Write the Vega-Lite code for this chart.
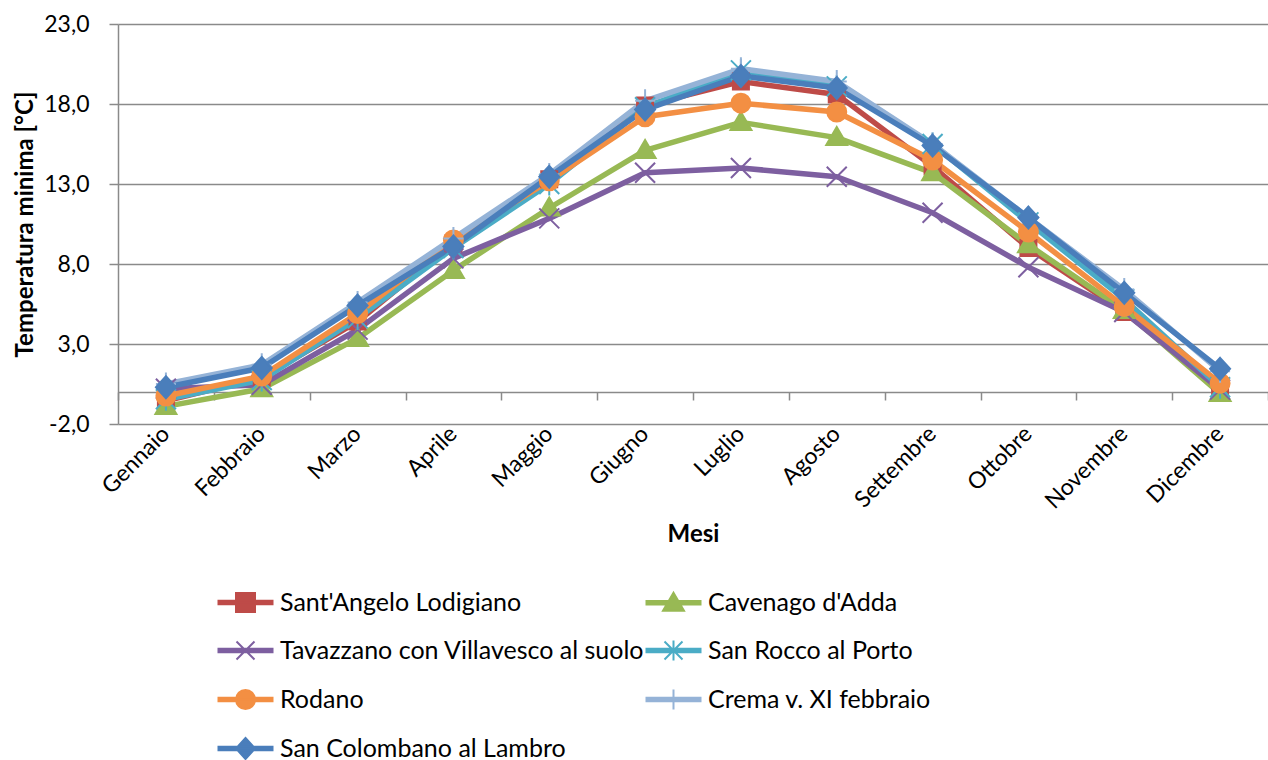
{
  "$schema": "https://vega.github.io/schema/vega-lite/v6.json",
  "autosize": {"type": "none"},
  "width": 1150,
  "height": 400,
  "padding": {"left": 118, "top": 24, "right": 0, "bottom": 336},
  "background": "white",
  "config": {
    "font": "Lato",
    "view": {"stroke": null}
  },
  "data": {
    "values": [
      {"mese": "Gennaio", "stazione": "Sant'Angelo Lodigiano", "t": -0.55},
      {"mese": "Febbraio", "stazione": "Sant'Angelo Lodigiano", "t": 0.9},
      {"mese": "Marzo", "stazione": "Sant'Angelo Lodigiano", "t": 4.4},
      {"mese": "Aprile", "stazione": "Sant'Angelo Lodigiano", "t": 9.3},
      {"mese": "Maggio", "stazione": "Sant'Angelo Lodigiano", "t": 13.3},
      {"mese": "Giugno", "stazione": "Sant'Angelo Lodigiano", "t": 17.9},
      {"mese": "Luglio", "stazione": "Sant'Angelo Lodigiano", "t": 19.4},
      {"mese": "Agosto", "stazione": "Sant'Angelo Lodigiano", "t": 18.6},
      {"mese": "Settembre", "stazione": "Sant'Angelo Lodigiano", "t": 14.1},
      {"mese": "Ottobre", "stazione": "Sant'Angelo Lodigiano", "t": 9.0},
      {"mese": "Novembre", "stazione": "Sant'Angelo Lodigiano", "t": 5.0},
      {"mese": "Dicembre", "stazione": "Sant'Angelo Lodigiano", "t": 0.35},

      {"mese": "Gennaio", "stazione": "Cavenago d'Adda", "t": -0.9},
      {"mese": "Febbraio", "stazione": "Cavenago d'Adda", "t": 0.2},
      {"mese": "Marzo", "stazione": "Cavenago d'Adda", "t": 3.35},
      {"mese": "Aprile", "stazione": "Cavenago d'Adda", "t": 7.6},
      {"mese": "Maggio", "stazione": "Cavenago d'Adda", "t": 11.5},
      {"mese": "Giugno", "stazione": "Cavenago d'Adda", "t": 15.1},
      {"mese": "Luglio", "stazione": "Cavenago d'Adda", "t": 16.85},
      {"mese": "Agosto", "stazione": "Cavenago d'Adda", "t": 15.9},
      {"mese": "Settembre", "stazione": "Cavenago d'Adda", "t": 13.7},
      {"mese": "Ottobre", "stazione": "Cavenago d'Adda", "t": 9.2},
      {"mese": "Novembre", "stazione": "Cavenago d'Adda", "t": 5.1},
      {"mese": "Dicembre", "stazione": "Cavenago d'Adda", "t": -0.1},

      {"mese": "Gennaio", "stazione": "Tavazzano con Villavesco al suolo", "t": 0.2},
      {"mese": "Febbraio", "stazione": "Tavazzano con Villavesco al suolo", "t": 0.45},
      {"mese": "Marzo", "stazione": "Tavazzano con Villavesco al suolo", "t": 3.9},
      {"mese": "Aprile", "stazione": "Tavazzano con Villavesco al suolo", "t": 8.35},
      {"mese": "Maggio", "stazione": "Tavazzano con Villavesco al suolo", "t": 10.85},
      {"mese": "Giugno", "stazione": "Tavazzano con Villavesco al suolo", "t": 13.7},
      {"mese": "Luglio", "stazione": "Tavazzano con Villavesco al suolo", "t": 14.0},
      {"mese": "Agosto", "stazione": "Tavazzano con Villavesco al suolo", "t": 13.45},
      {"mese": "Settembre", "stazione": "Tavazzano con Villavesco al suolo", "t": 11.2},
      {"mese": "Ottobre", "stazione": "Tavazzano con Villavesco al suolo", "t": 7.8},
      {"mese": "Novembre", "stazione": "Tavazzano con Villavesco al suolo", "t": 5.0},
      {"mese": "Dicembre", "stazione": "Tavazzano con Villavesco al suolo", "t": 0.15},

      {"mese": "Gennaio", "stazione": "San Rocco al Porto", "t": -0.45},
      {"mese": "Febbraio", "stazione": "San Rocco al Porto", "t": 0.75},
      {"mese": "Marzo", "stazione": "San Rocco al Porto", "t": 4.6},
      {"mese": "Aprile", "stazione": "San Rocco al Porto", "t": 9.0},
      {"mese": "Maggio", "stazione": "San Rocco al Porto", "t": 13.0},
      {"mese": "Giugno", "stazione": "San Rocco al Porto", "t": 17.8},
      {"mese": "Luglio", "stazione": "San Rocco al Porto", "t": 20.1},
      {"mese": "Agosto", "stazione": "San Rocco al Porto", "t": 19.1},
      {"mese": "Settembre", "stazione": "San Rocco al Porto", "t": 15.5},
      {"mese": "Ottobre", "stazione": "San Rocco al Porto", "t": 10.6},
      {"mese": "Novembre", "stazione": "San Rocco al Porto", "t": 5.8},
      {"mese": "Dicembre", "stazione": "San Rocco al Porto", "t": 0.3},

      {"mese": "Gennaio", "stazione": "Rodano", "t": -0.25},
      {"mese": "Febbraio", "stazione": "Rodano", "t": 1.0},
      {"mese": "Marzo", "stazione": "Rodano", "t": 4.9},
      {"mese": "Aprile", "stazione": "Rodano", "t": 9.5},
      {"mese": "Maggio", "stazione": "Rodano", "t": 13.2},
      {"mese": "Giugno", "stazione": "Rodano", "t": 17.2},
      {"mese": "Luglio", "stazione": "Rodano", "t": 18.05},
      {"mese": "Agosto", "stazione": "Rodano", "t": 17.5},
      {"mese": "Settembre", "stazione": "Rodano", "t": 14.5},
      {"mese": "Ottobre", "stazione": "Rodano", "t": 10.0},
      {"mese": "Novembre", "stazione": "Rodano", "t": 5.35},
      {"mese": "Dicembre", "stazione": "Rodano", "t": 0.55},

      {"mese": "Gennaio", "stazione": "Crema v. XI febbraio", "t": 0.5},
      {"mese": "Febbraio", "stazione": "Crema v. XI febbraio", "t": 1.7},
      {"mese": "Marzo", "stazione": "Crema v. XI febbraio", "t": 5.6},
      {"mese": "Aprile", "stazione": "Crema v. XI febbraio", "t": 9.6},
      {"mese": "Maggio", "stazione": "Crema v. XI febbraio", "t": 13.6},
      {"mese": "Giugno", "stazione": "Crema v. XI febbraio", "t": 18.2},
      {"mese": "Luglio", "stazione": "Crema v. XI febbraio", "t": 20.2},
      {"mese": "Agosto", "stazione": "Crema v. XI febbraio", "t": 19.4},
      {"mese": "Settembre", "stazione": "Crema v. XI febbraio", "t": 15.5},
      {"mese": "Ottobre", "stazione": "Crema v. XI febbraio", "t": 10.9},
      {"mese": "Novembre", "stazione": "Crema v. XI febbraio", "t": 6.4},
      {"mese": "Dicembre", "stazione": "Crema v. XI febbraio", "t": 1.3},

      {"mese": "Gennaio", "stazione": "San Colombano al Lambro", "t": 0.3},
      {"mese": "Febbraio", "stazione": "San Colombano al Lambro", "t": 1.5},
      {"mese": "Marzo", "stazione": "San Colombano al Lambro", "t": 5.4},
      {"mese": "Aprile", "stazione": "San Colombano al Lambro", "t": 9.1},
      {"mese": "Maggio", "stazione": "San Colombano al Lambro", "t": 13.45},
      {"mese": "Giugno", "stazione": "San Colombano al Lambro", "t": 17.65},
      {"mese": "Luglio", "stazione": "San Colombano al Lambro", "t": 19.75},
      {"mese": "Agosto", "stazione": "San Colombano al Lambro", "t": 19.0},
      {"mese": "Settembre", "stazione": "San Colombano al Lambro", "t": 15.4},
      {"mese": "Ottobre", "stazione": "San Colombano al Lambro", "t": 10.9},
      {"mese": "Novembre", "stazione": "San Colombano al Lambro", "t": 6.2},
      {"mese": "Dicembre", "stazione": "San Colombano al Lambro", "t": 1.45}
    ]
  },
  "layer": [
    {
      "mark": {"type": "line", "strokeWidth": 5.5, "strokeJoin": "round", "strokeCap": "round"},
      "encoding": {
        "x": {
          "field": "mese", "type": "ordinal", "bandPosition": 0.5,
          "sort": ["Gennaio", "Febbraio", "Marzo", "Aprile", "Maggio", "Giugno", "Luglio", "Agosto", "Settembre", "Ottobre", "Novembre", "Dicembre"],
          "scale": {"type": "band", "paddingInner": 0, "paddingOuter": 0},
          "axis": {
            "orient": "bottom", "title": "Mesi", "domain": false, "ticks": false, "grid": false,
            "labelAngle": -45, "labelAlign": "right", "labelBaseline": "middle", "labelPadding": 6,
            "labelFontSize": 23, "labelColor": "black",
            "titleFontSize": 24, "titleFontWeight": "bold", "titleColor": "black", "titlePadding": 9
          }
        },
        "y": {
          "field": "t", "type": "quantitative",
          "scale": {"domain": [-2, 23], "nice": false, "zero": false},
          "axis": {
            "title": "Temperatura minima [°C]",
            "values": [-2, 3, 8, 13, 18, 23],
            "labelExpr": "replace(replace(format(datum.value, '.1f'), '.', ','), '\u2212', '-')",
            "grid": true, "gridColor": "#8a8a8a", "gridWidth": 1.5,
            "domainColor": "#8a8a8a", "domainWidth": 1.5,
            "tickColor": "#8a8a8a", "tickWidth": 1.5, "tickSize": 9,
            "labelPadding": 20, "labelFontSize": 23, "labelColor": "black",
            "titleFontSize": 24, "titleFontWeight": "bold", "titleColor": "black", "titlePadding": 6
          }
        },
        "color": {
          "field": "stazione", "type": "nominal",
          "scale": {
            "domain": ["Sant'Angelo Lodigiano", "Cavenago d'Adda", "Tavazzano con Villavesco al suolo", "San Rocco al Porto", "Rodano", "Crema v. XI febbraio", "San Colombano al Lambro"],
            "range": ["#BE4B48", "#98B954", "#7D5FA0", "#4BACC6", "#F38F43", "#95B3D7", "#4A7EBB"]
          },
          "legend": {
            "title": null,
            "orient": "none", "legendX": 115, "legendY": 566,
            "direction": "horizontal",
            "columns": 2, "columnPadding": -3, "rowPadding": 20,
            "symbolSize": 100, "symbolStrokeWidth": 2,
            "labelFontSize": 25, "labelColor": "black", "labelOffset": 22, "labelLimit": 600,
            "encode": {
              "symbols": {
                "update": {
                  "shape": {"signal": "['M-5.4,-0.35H5.4V0.35H-5.4Z M-1.9,-1.9H1.9V1.9H-1.9Z', 'M-5.4,-0.35H5.4V0.35H-5.4Z M0,-2L2.1,1.6H-2.1Z', 'M-5.4,-0.35H5.4V0.35H-5.4Z M-1.8,-1.8L1.8,1.8M-1.8,1.8L1.8,-1.8', 'M-5.4,-0.35H5.4V0.35H-5.4Z M-1.8,-1.8L1.8,1.8M-1.8,1.8L1.8,-1.8M0,-2V2', 'M-5.4,-0.35H5.4V0.35H-5.4Z M-1.9,0A1.9,1.9,0,1,1,1.9,0A1.9,1.9,0,1,1,-1.9,0Z', 'M-5.4,-0.35H5.4V0.35H-5.4Z M0,-2V2M-1.8,0H1.8', 'M-5.4,-0.35H5.4V0.35H-5.4Z M0,-2.1L1.9,0L0,2.1L-1.9,0Z'][indexof(domain('color'), datum.value)]"},
                  "fill": {"scale": "color", "field": "value"},
                  "stroke": {"scale": "color", "field": "value"},
                  "strokeWidth": {"value": 2},
                  "size": {"value": 100},
                  "opacity": {"value": 1}
                }
              }
            }
          }
        },
        "order": {"value": null}
      }
    },
    {
      "mark": {"type": "point", "filled": true, "size": 100, "strokeWidth": 2, "opacity": 1},
      "encoding": {
        "x": {
          "field": "mese", "type": "ordinal", "bandPosition": 0.5,
          "sort": ["Gennaio", "Febbraio", "Marzo", "Aprile", "Maggio", "Giugno", "Luglio", "Agosto", "Settembre", "Ottobre", "Novembre", "Dicembre"],
          "scale": {"type": "band", "paddingInner": 0, "paddingOuter": 0},
          "axis": {
            "orient": "top", "offset": -368, "labels": false, "title": null, "grid": false,
            "domain": true, "domainColor": "#8a8a8a", "domainWidth": 1.5,
            "ticks": true, "tickBand": "extent", "tickSize": -8, "tickColor": "#8a8a8a", "tickWidth": 1.5
          }
        },
        "y": {"field": "t", "type": "quantitative"},
        "color": {"field": "stazione", "type": "nominal"},
        "stroke": {
          "field": "stazione", "type": "nominal",
          "scale": {
            "domain": ["Sant'Angelo Lodigiano", "Cavenago d'Adda", "Tavazzano con Villavesco al suolo", "San Rocco al Porto", "Rodano", "Crema v. XI febbraio", "San Colombano al Lambro"],
            "range": ["#BE4B48", "#98B954", "#7D5FA0", "#4BACC6", "#F38F43", "#95B3D7", "#4A7EBB"]
          },
          "legend": null
        },
        "shape": {
          "field": "stazione", "type": "nominal",
          "scale": {
            "range": [
              "M0,-2.1L2.1,1.5H-2.1Z",
              "M0,-2.3V2.3M-2,0H2",
              "M-1.9,0A1.9,1.9,0,1,1,1.9,0A1.9,1.9,0,1,1,-1.9,0Z",
              "M0,-2.2L2,0L0,2.2L-2,0Z",
              "M-2,-2L2,2M-2,2L2,-2M0,-2.3V2.3",
              "M-1.6,-1.6H1.6V1.6H-1.6Z",
              "M-2,-2L2,2M-2,2L2,-2"
            ]
          },
          "legend": null
        }
      }
    }
  ],
  "resolve": {"axis": {"x": "independent"}}
}
